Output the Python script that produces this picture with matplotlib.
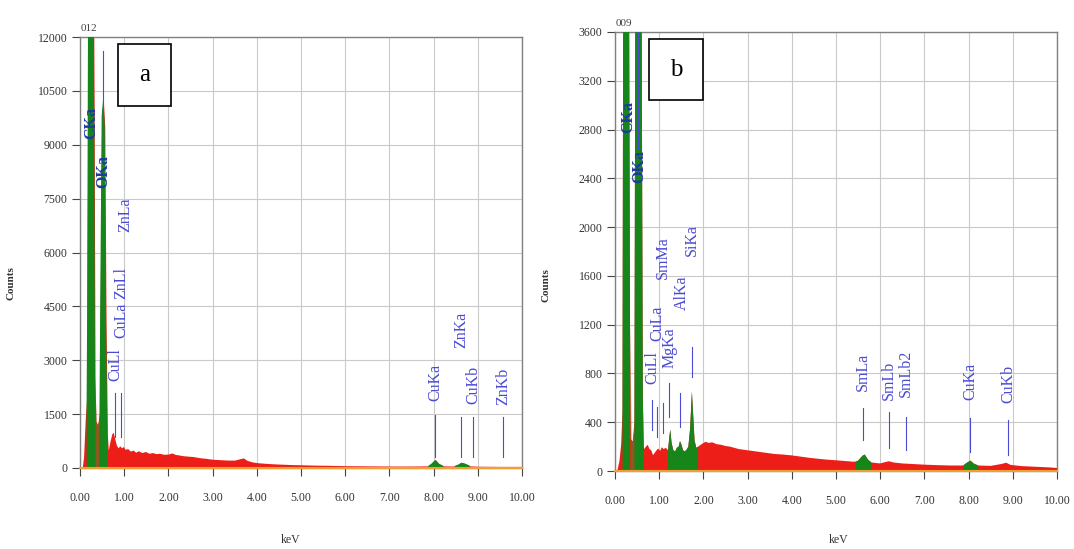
import numpy as np
import matplotlib.pyplot as plt
from matplotlib.patches import Rectangle

# ---- panel a: EDS spectrum (keV, counts) ----
energy_a = [0.05, 0.08, 0.12, 0.15, 0.16, 0.18, 0.20, 0.277, 0.30, 0.32, 0.34,
            0.36, 0.40, 0.44, 0.46, 0.49, 0.525, 0.56, 0.59, 0.62, 0.64, 0.68,
            0.72, 0.75, 0.78, 0.82, 0.86, 0.90, 0.94, 0.98, 1.02, 1.08, 1.14, 1.20,
            1.26, 1.32, 1.40, 1.48, 1.56, 1.64, 1.72, 1.80, 1.90, 2.00, 2.08, 2.15,
            2.25, 2.35, 2.45, 2.55, 2.65, 2.75, 2.85, 2.95, 3.05, 3.20, 3.35, 3.50,
            3.62, 3.70, 3.78, 3.90, 4.00, 4.20, 4.40, 4.60, 4.80, 5.00, 5.30, 5.60,
            6.00, 6.50, 7.00, 7.50, 7.88, 7.95, 8.04, 8.12, 8.22, 8.40, 8.48, 8.55,
            8.63, 8.72, 8.82, 9.00, 9.50, 10.00]
counts_a = [0, 300, 1400, 1950, 4000, 12000, 15000, 15000, 15000, 10000, 2500,
            1300, 1200, 1500, 5000, 9800, 10300, 9500, 4000, 900, 500, 750,
            950, 1000, 850, 650, 560, 620, 560, 600, 520, 540, 470, 500,
            440, 480, 430, 460, 410, 430, 400, 410, 380, 390, 420, 380,
            360, 340, 330, 320, 300, 280, 270, 250, 240, 230, 220, 220,
            260, 280, 210, 170, 150, 130, 115, 105, 95, 90, 80, 75,
            65, 60, 55, 55, 60, 120, 230, 120, 60, 55, 60, 90,
            150, 120, 60, 50, 45, 45]
green_a = [(0.15, 0.34), (0.44, 0.62), (7.88, 8.22), (8.48, 8.82)]
brown_a = [(0.34, 0.44)]

labels_a = ["CKa", "OKa", "CuLl", "CuLa", "ZnLl", "ZnLa", "CuKa", "ZnKa", "CuKb", "ZnKb"]
label_kev_a = [0.26, 0.52, 0.79, 0.93, 0.93, 1.02, 8.04, 8.63, 8.90, 9.57]
label_cnt_a = [9600, 8240, 2870, 4120, 5150, 7040, 2390, 3840, 2310, 2280]
marker_kev_a = [0.52, 0.79, 0.93, 8.04, 8.63, 8.90, 9.57]
marker_lo_a = [8900, 860, 860, 306, 306, 306, 306]
marker_hi_a = [11600, 2090, 2090, 1475, 1420, 1420, 1420]

# ---- panel b: EDS spectrum (keV, counts) ----
energy_b = [0.05, 0.10, 0.14, 0.17, 0.19, 0.277, 0.31, 0.34, 0.36, 0.40,
            0.44, 0.46, 0.525, 0.60, 0.63, 0.65, 0.66, 0.70, 0.74, 0.78,
            0.82, 0.86, 0.90, 0.94, 0.98, 1.02, 1.06, 1.10, 1.15, 1.20, 1.23, 1.25,
            1.28, 1.32, 1.36, 1.40, 1.44, 1.47, 1.50, 1.54, 1.58, 1.62, 1.66, 1.70,
            1.74, 1.77, 1.80, 1.84, 1.88, 1.92, 1.98, 2.05, 2.12, 2.20, 2.30, 2.40,
            2.50, 2.60, 2.70, 2.80, 2.90, 3.00, 3.20, 3.40, 3.60, 3.80, 4.00, 4.20,
            4.40, 4.60, 4.80, 5.00, 5.20, 5.40, 5.45, 5.50, 5.60, 5.65, 5.72, 5.80,
            6.00, 6.10, 6.20, 6.30, 6.50, 6.80, 7.00, 7.30, 7.60, 7.88, 7.95, 8.04,
            8.12, 8.22, 8.50, 8.75, 8.85, 8.95, 9.20, 9.50, 9.80, 10.00]
counts_b = [0, 80, 220, 500, 5000, 5000, 5000, 1200, 260, 240,
            400, 4000, 4500, 4000, 600, 200, 180, 200, 215, 180,
            170, 130, 150, 170, 185, 165, 195, 180, 190, 170, 280, 340,
            230, 170, 160, 190, 200, 245, 220, 170, 160, 175, 200, 350,
            650, 450, 250, 190, 200, 210, 225, 240, 230, 235, 220, 215,
            205, 200, 190, 180, 175, 170, 160, 150, 140, 135, 128, 118,
            108, 100, 93, 88, 82, 76, 78, 85, 125, 135, 95, 70,
            62, 72, 80, 70, 62, 56, 52, 48, 45, 45, 65, 85,
            60, 45, 42, 58, 68, 50, 40, 35, 30, 25]
green_b = [(0.17, 0.34), (0.44, 0.65), (1.20, 1.88), (5.45, 5.80), (7.88, 8.22)]
brown_b = [(0.34, 0.44)]

labels_b = ["CKa", "OKa", "CuLl", "CuLa", "SmMa", "MgKa", "AlKa", "SiKa",
            "SmLa", "SmLb", "SmLb2", "CuKa", "CuKb"]
label_kev_b = [0.29, 0.55, 0.84, 0.95, 1.08, 1.24, 1.52, 1.74, 5.61, 6.20, 6.58, 8.03, 8.89]
label_cnt_b = [2900, 2500, 845, 1214, 1747, 1009, 1460, 1894, 812, 746, 804, 738, 713]
marker_kev_b = [0.52, 0.84, 0.95, 1.08, 1.22, 1.47, 1.74, 5.61, 6.20, 6.58, 8.03, 8.89]
marker_lo_b = [2650, 336, 279, 312, 443, 361, 771, 254, 189, 172, 156, 131]
marker_hi_b = [3600, 582, 525, 558, 722, 640, 1017, 517, 484, 443, 435, 418]

W, H = 1074, 549
SERIF = ['Liberation Serif', 'DejaVu Serif']
RED = '#ec1e17'
GREEN = '#17861a'
BROWN = '#8a5a1e'
LBLUE = '#4a4ad2'
DBLUE = '#1c3c9c'


def in_windows(e, windows):
    e = np.asarray(e)
    mask = np.zeros(len(e), dtype=bool)
    for lo, hi in windows:
        mask |= (e >= lo) & (e <= hi)
    return mask


def draw_panel(ax, energy, counts, green, brown, ymax, ystep,
               labels, lkev, lcnt, mkev, mlo, mhi, spec_id, tag, box_px):
    e = np.asarray(energy)
    c = np.asarray(counts)
    ax.set_xlim(0, 10)
    ax.set_ylim(0, ymax)
    ax.grid(True, color='#c9c9c9', linewidth=0.8, zorder=0)
    ax.fill_between(e, 0, c, color=RED, linewidth=0, zorder=2)
    ax.fill_between(e, 0, c, where=in_windows(e, brown), color=BROWN,
                    linewidth=0, zorder=3)
    ax.fill_between(e, 0, c, where=in_windows(e, green), color=GREEN,
                    linewidth=0, zorder=3)
    ax.axhline(0, color='#f0a030', linewidth=1.5, zorder=4, clip_on=False)

    for x, lo, hi in zip(mkev, mlo, mhi):
        ax.plot([x, x], [lo, hi], color=LBLUE, linewidth=0.8, zorder=5)
    for name, x, y in zip(labels, lkev, lcnt):
        bold = name in ("CKa", "OKa")
        ax.text(x, y, name, rotation=90, ha='center', va='center',
                color=DBLUE if bold else LBLUE, fontsize=11.5,
                fontweight='bold' if bold else 'normal', family=SERIF, zorder=6)

    ax.set_xticks(np.arange(0, 10.01, 1))
    ax.set_xticklabels([f"{v:.2f}" for v in np.arange(0, 10.01, 1)])
    ax.set_yticks(np.arange(0, ymax + 1, ystep))
    ax.set_yticklabels([f"{v:d}" for v in range(0, ymax + 1, ystep)])
    ax.tick_params(axis='x', length=6, pad=11, labelsize=8.5, colors='#444444')
    ax.tick_params(axis='y', length=6, pad=3, labelsize=8.5, colors='#444444')
    for lab in ax.get_xticklabels() + ax.get_yticklabels():
        lab.set_family(SERIF)
        lab.set_color('#333333')
    for sp in ax.spines.values():
        sp.set_color('#808080')
        sp.set_linewidth(1.0)

    ax.set_ylabel("Counts", family=SERIF, fontsize=8, fontweight='bold', color='#333333')
    ax.set_xlabel("keV", family=SERIF, fontsize=8.5, color='#333333')
    ax.annotate(spec_id, xy=(0.2, 1.0), xycoords=('data', 'axes fraction'),
                xytext=(0, 3), textcoords='offset points', ha='center', va='bottom',
                fontsize=8, family=SERIF, color='#444444')

    x0, y0, x1, y1 = box_px
    ax.figure.add_artist(Rectangle((x0 / W, 1 - y1 / H), (x1 - x0) / W, (y1 - y0) / H,
                                   transform=ax.figure.transFigure, facecolor='white',
                                   edgecolor='black', linewidth=1.2, zorder=10))
    ax.figure.text((x0 + x1) / 2 / W, 1 - (y0 + y1) / 2 / H, tag, ha='center',
                   va='center', fontsize=18, family=SERIF, zorder=11)


fig = plt.figure(figsize=(W / 100, H / 100), dpi=100)
ax_a = fig.add_axes([80 / W, (H - 468) / H, 442 / W, 431 / H])
ax_b = fig.add_axes([615 / W, (H - 471) / H, 442 / W, 439 / H])

draw_panel(ax_a, energy_a, counts_a, green_a, brown_a, 12000, 1500,
           labels_a, label_kev_a, label_cnt_a, marker_kev_a, marker_lo_a, marker_hi_a,
           "012", "a", (118, 44, 171, 106))
draw_panel(ax_b, energy_b, counts_b, green_b, brown_b, 3600, 400,
           labels_b, label_kev_b, label_cnt_b, marker_kev_b, marker_lo_b, marker_hi_b,
           "009", "b", (649, 39, 703, 100))

ax_a.yaxis.set_label_coords(-0.147, 0.43)
ax_a.xaxis.set_label_coords(0.477, -0.152)
ax_b.yaxis.set_label_coords(-0.147, 0.424)
ax_b.xaxis.set_label_coords(0.505, -0.143)

fig.savefig("out.png", dpi=100)
